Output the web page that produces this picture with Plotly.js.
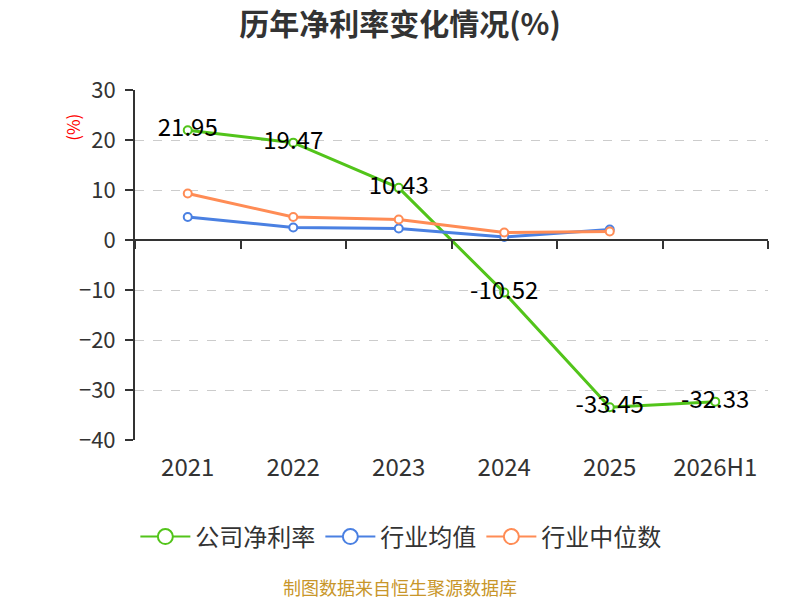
<!DOCTYPE html>
<html>
<head>
<meta charset="utf-8">
<script src="https://cdn.plot.ly/plotly-3.0.1.min.js"></script>
<style>
  body { margin: 0; background: #fff; }
  #chart { width: 800px; height: 600px; }
</style>
</head>
<body>
<div id="chart"></div>
<script>
// Chart data
var years = ["2021", "2022", "2023", "2024", "2025", "2026H1"];
var seriesNames = ["公司净利率", "行业均值", "行业中位数"];
var company = [21.95, 19.47, 10.43, -10.52, -33.45, -32.33];
var indAvg = [4.6, 2.5, 2.3, 0.6, 2.1, null];
var indMedian = [9.3, 4.6, 4.1, 1.5, 1.7, null];
var colors = ['#52c41a', '#4a80e2', '#ff8c55'];

var font = "'Noto Sans CJK SC', 'Noto Sans', sans-serif";

function lineTrace(name, y, color, withText) {
  var t = {
    x: years,
    y: y,
    name: name,
    type: 'scatter',
    mode: withText ? 'lines+markers+text' : 'lines+markers',
    line: { color: color, width: 3 },
    marker: { color: '#ffffff', size: 8, line: { color: color, width: 2 } },
    cliponaxis: false,
    showlegend: false,
    hoverinfo: 'x+y+name'
  };
  if (withText) {
    t.text = y.map(v => v.toFixed(2));
    t.textposition = 'middle center';
    t.textfont = { family: font, size: 24, color: '#000000' };
  }
  return t;
}

// legend-only entries with a bigger hollow circle, like the original legend
function legendTrace(name, color) {
  return {
    x: [null], y: [null], name: name,
    type: 'scatter', mode: 'lines+markers',
    line: { color: color, width: 2 },
    marker: { color: '#ffffff', size: 15, line: { color: color, width: 2 } },
    hoverinfo: 'skip'
  };
}

var data = [
  lineTrace(seriesNames[0], company, colors[0], true),
  lineTrace(seriesNames[1], indAvg, colors[1], false),
  lineTrace(seriesNames[2], indMedian, colors[2], false),
  // helper trace so the zero-line axis gets drawn
  { x: years, y: company, xaxis: 'x2', yaxis: 'y', type: 'scatter', mode: 'none',
    showlegend: false, hoverinfo: 'skip' }
];
seriesNames.forEach((n, i) => data.push(legendTrace(n, colors[i])));

var ymin = -40, ymax = 30;

var layout = {
  width: 800,
  height: 600,
  paper_bgcolor: '#ffffff',
  plot_bgcolor: '#ffffff',
  margin: { l: 135, r: 32, t: 90, b: 160 },
  title: {
    text: '<b>历年净利率变化情况(%)</b>',
    x: 0.5,
    xref: 'container',
    xanchor: 'center',
    y: 0.96,
    yref: 'container',
    yanchor: 'middle',
    font: { family: font, size: 30, color: '#333333' }
  },
  showlegend: true,
  legend: {
    orientation: 'h',
    x: 0.42,
    xanchor: 'center',
    y: -0.277,
    yanchor: 'middle',
    font: { family: font, size: 24, color: '#333333' },
    itemwidth: 50
  },
  xaxis: {
    type: 'category',
    range: [-0.5, 5.5],
    showline: false,
    showgrid: false,
    zeroline: false,
    ticks: '',
    ticklabelstandoff: 11,
    tickfont: { family: font, size: 24, color: '#333333' },
    fixedrange: true
  },
  xaxis2: {
    type: 'category',
    overlaying: 'x',
    anchor: 'free',
    position: (0 - ymin) / (ymax - ymin),
    range: [-0.5, 5.5],
    showline: true,
    linecolor: '#333333',
    linewidth: 2,
    showgrid: false,
    zeroline: false,
    ticks: 'outside',
    tickson: 'boundaries',
    ticklen: 8,
    tickwidth: 2,
    tickcolor: '#333333',
    showticklabels: false,
    fixedrange: true
  },
  yaxis: {
    range: [ymin, ymax],
    dtick: 10,
    showline: true,
    linecolor: '#333333',
    linewidth: 2,
    ticks: 'outside',
    ticklen: 8,
    tickwidth: 2,
    tickcolor: '#333333',
    ticklabelstandoff: 5,
    showgrid: true,
    gridcolor: '#cccccc',
    griddash: 'dash',
    gridwidth: 1,
    zeroline: false,
    tickfont: { family: font, size: 22, color: '#333333' },
    fixedrange: true
  },
  annotations: [
    {
      text: '(%)',
      xref: 'paper', yref: 'paper',
      x: -0.1, y: 0.894,
      xanchor: 'center', yanchor: 'middle',
      textangle: -90,
      showarrow: false,
      font: { family: font, size: 17, color: '#ff0000' }
    },
    {
      text: '制图数据来自恒生聚源数据库',
      xref: 'paper', yref: 'paper',
      x: 0.419, y: -0.42,
      xanchor: 'center', yanchor: 'middle',
      showarrow: false,
      font: { family: font, size: 18, color: '#c8962a' }
    }
  ]
};

Plotly.newPlot('chart', data, layout, { displayModeBar: false, staticPlot: true });
</script>
</body>
</html>
